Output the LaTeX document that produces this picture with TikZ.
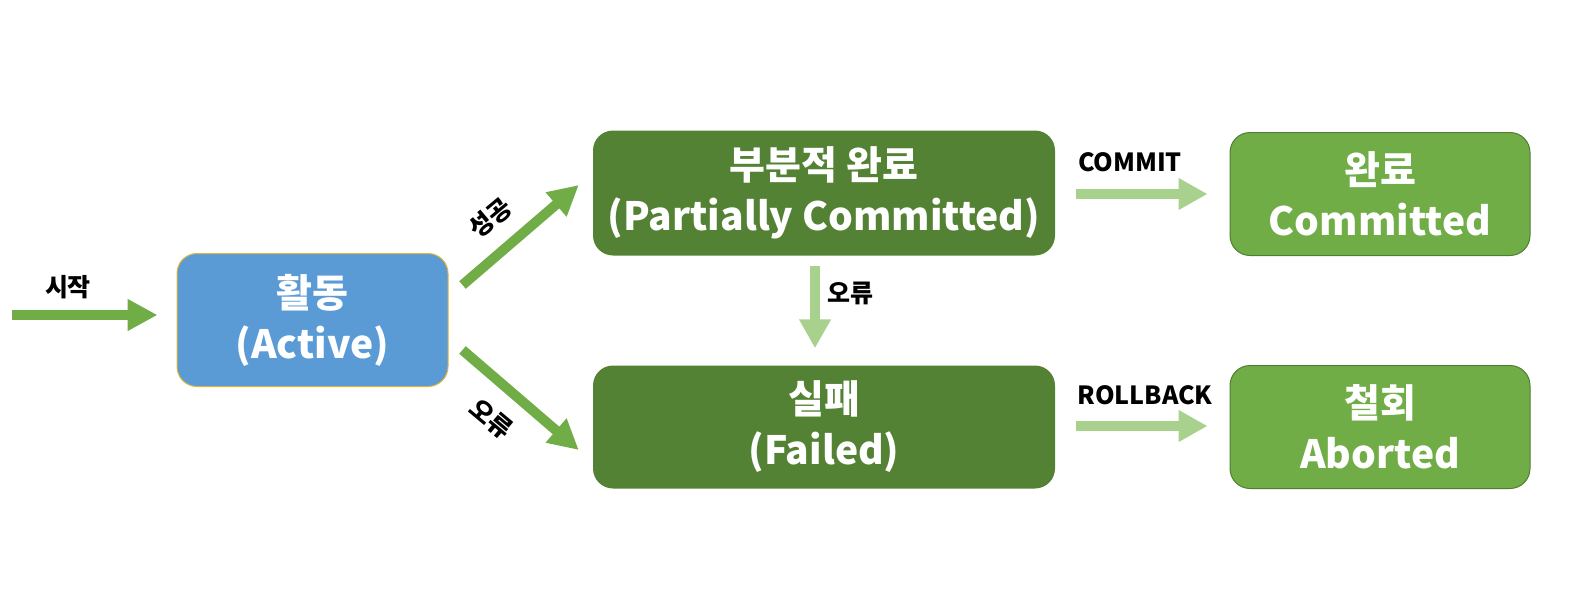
\documentclass[tikz,border=0pt]{standalone}
\usepackage{fontspec}
\setmainfont{Noto Sans CJK KR}
\usetikzlibrary{arrows.meta,calc}
\definecolor{actblue}{HTML}{5B9BD5}
\definecolor{actedge}{HTML}{E0B43C}
\definecolor{dkgreen}{HTML}{548235}
\definecolor{mgreen}{HTML}{70AD47}
\definecolor{mgedge}{HTML}{507E32}
\definecolor{ltgreen}{HTML}{A9D18E}
\tikzset{
  box/.style={rounded corners=20pt, align=center, inner sep=0pt, text=white,
    font=\fontsize{39}{51}\selectfont\bfseries},
  lbl/.style={font=\fontsize{25}{28}\selectfont\bfseries, text=black, inner sep=0pt},
  garrow/.style={draw=mgreen, line width=10pt, -{Triangle[length=30pt,width=30pt]}},
  larrow/.style={draw=ltgreen, line width=10pt, -{Triangle[length=29pt,width=30pt]}}
}
\begin{document}
\begin{tikzpicture}[x=1pt,y=-1pt]
\useasboundingbox (0,0) rectangle (1580,597);
\node[box, fill=actblue, draw=actedge, line width=1pt, minimum width=271pt, minimum height=133pt] (act) at (312.5,320) {활동\\(Active)};
\node[box, fill=dkgreen, minimum width=462pt, minimum height=125pt] (part) at (824,193) {부분적 완료\\(Partially Committed)};
\node[box, fill=dkgreen, minimum width=462pt, minimum height=123pt] (fail) at (824,427) {실패\\(Failed)};
\node[box, fill=mgreen, draw=mgedge, line width=1pt, minimum width=300pt, minimum height=123pt] (comm) at (1380,194) {완료\\Committed};
\node[box, fill=mgreen, draw=mgedge, line width=1pt, minimum width=300pt, minimum height=123pt] (abrt) at (1380,427) {철회\\Aborted};

\coordinate (st) at (12,315);
\draw[garrow, shorten >=19pt] (st) -- (st -| act.west);
\node[lbl] (lst) at (68,287) {시작};

\draw[garrow] ($(act.east)+(14,-35)$) -- ($(part.west)+(-14,-8)$);
\node[lbl, rotate=40] (lsucc) at (490,218) {성공};
\draw[garrow] ($(act.east)+(14,30)$) -- ($(fail.west)+(-14,23)$);
\node[lbl, rotate=-40] (lerr1) at (491,419) {오류};

\draw[larrow] ($(part.south)+(-9,10)$) -- ($(fail.north)+(-9,-17)$);
\node[lbl] (lerr2) at (850,293) {오류};

\draw[larrow] ($(part.east)+(21,1)$) -- ($(comm.west)+(-22,0)$);
\node[lbl] (lcommit) at (1130,162) {COMMIT};
\draw[larrow] ($(fail.east)+(21,-1)$) -- ($(abrt.west)+(-22,-1)$);
\node[lbl] (lroll) at (1145,395) {ROLLBACK};
\end{tikzpicture}
\end{document}
